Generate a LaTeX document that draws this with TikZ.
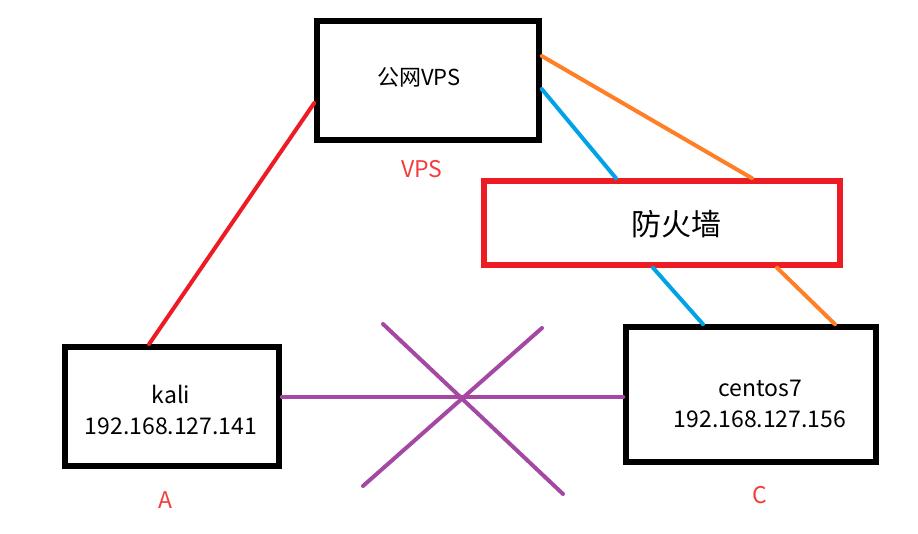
\documentclass[tikz,border=0pt]{standalone}
\usepackage{fontspec}
\setmainfont{Noto Sans CJK SC}
\usepackage{tikz}
\definecolor{paintred}{RGB}{237,28,36}
\definecolor{labelred}{RGB}{242,62,62}
\definecolor{paintblue}{RGB}{0,162,232}
\definecolor{paintorange}{RGB}{255,127,39}
\definecolor{paintpurple}{RGB}{163,73,164}

\begin{document}
\begin{tikzpicture}[x=1pt, y=-1pt,
    box/.style={draw, line width=5.5pt, inner sep=0pt},
    wire/.style={line width=4pt, line cap=round},
    hosttext/.style={align=center, font=\fontsize{23}{31}\selectfont},
    tag/.style={text=labelred, font=\fontsize{23}{28}\selectfont}]
    \useasboundingbox (0,0) rectangle (918,533);
    % boxes
    \node[box, minimum width=222pt, minimum height=119pt] (vps) at (428,80.5) {};
    \node[box, draw=paintred, minimum width=356pt, minimum height=84pt] (fw) at (662,223) {};
    \node[box, minimum width=214pt, minimum height=119pt] (kali) at (172,406.5) {};
    \node[box, minimum width=250pt, minimum height=135pt] (centos) at (751,394.5) {};
    % texts
    \node[font=\fontsize{22}{26}\selectfont] (vpsname) at (419,77) {公网VPS};
    \node[font=\fontsize{30}{34}\selectfont] (fwname) at (676,224) {防火墙};
    \node[hosttext] (kaliname) at (171,410) {kali\\192.168.127.141};
    \node[hosttext] (centosname) at (760,404) {centos7\\192.168.127.156};
    \node[tag] (vpstag) at (422,169) {VPS};
    \node[tag] (kalitag) at (165,500) {A};
    \node[tag] (centostag) at (760,495) {C};
    % links
    \draw[wire, paintred] ([yshift=-22.5pt]vps.west) -- ([xshift=-23pt]kali.north);
    \draw[wire, paintorange] ([yshift=24.5pt]vps.east) -- ([xshift=90pt]fw.north);
    \draw[wire, paintblue] ([yshift=-8.5pt]vps.east) -- ([xshift=-46pt]fw.north);
    \draw[wire, paintblue] ([xshift=-9pt]fw.south) -- ([xshift=-48pt]centos.north);
    \draw[wire, paintorange] ([xshift=115pt]fw.south) -- ([xshift=84pt]centos.north);
    \draw[wire, paintpurple] ([yshift=9.5pt]kali.east) -- ([yshift=-2.5pt]centos.west);
    % blocked
    \draw[wire, paintpurple] (383,324) -- (563,494);
    \draw[wire, paintpurple] (542,328) -- (363,486);
\end{tikzpicture}
\end{document}
